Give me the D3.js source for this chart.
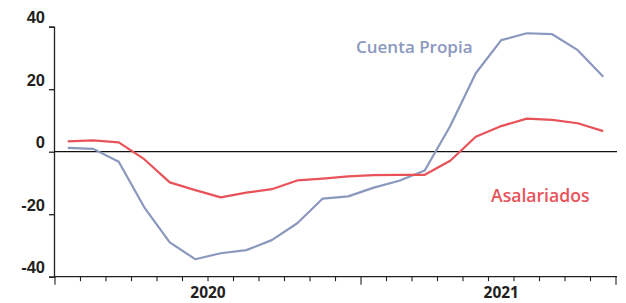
<!DOCTYPE html>
<html>
<head>
<meta charset="utf-8">
<script src="https://cdn.jsdelivr.net/npm/d3@7"></script>
<style>
	body { margin: 0; background: #fff; }
	svg { display: block; font-family: "Open Sans", sans-serif; }
</style>
</head>
<body>
<svg id="chart" width="626" height="303"></svg>
<script>
// monthly series, Jan 2020 - Oct 2021
var months = ["2020-01","2020-02","2020-03","2020-04","2020-05","2020-06","2020-07","2020-08","2020-09","2020-10","2020-11","2020-12",
	"2021-01","2021-02","2021-03","2021-04","2021-05","2021-06","2021-07","2021-08","2021-09","2021-10"];
var cuentaPropia = [1.2, 0.9, -3.2, -17.8, -29.0, -34.4, -32.5, -31.5, -28.3, -22.9, -15.0, -14.3,
	-11.5, -9.3, -6.0, 8.2, 25.1, 35.7, 37.9, 37.6, 32.5, 24.0];
var asalariados = [3.3, 3.6, 3.0, -2.4, -9.8, -12.3, -14.6, -13.1, -12.0, -9.2, -8.6, -7.9,
	-7.5, -7.4, -7.4, -2.9, 4.8, 8.2, 10.6, 10.2, 9.1, 6.6];
var yTicks = [-40, -20, 0, 20, 40];
// year label spans, in month slots
var years = [{label: "2020", from: 0, to: 12}, {label: "2021", from: 12, to: 23}];

var svg = d3.select("#chart");
var plot = {left: 55, right: 616, top: 26.7, bottom: 276.7};

var x = d3.scaleBand().domain(months).range([plot.left, plot.right]).padding(0);
var slot = d3.scaleLinear().domain([0, months.length]).range([plot.left, plot.right]);
var y = d3.scaleLinear().domain([-40, 40]).range([plot.bottom, plot.top]);

var ink = "#231f20";

// y axis
var yAxis = svg.append("g")
	.attr("transform", "translate(" + (plot.left - 1) + ",0)")
	.call(d3.axisLeft(y).tickValues(yTicks).tickSize(5).tickFormat(d3.format("d")));
yAxis.select(".domain").attr("stroke", ink).attr("stroke-width", 1.3);
yAxis.selectAll(".tick line").attr("stroke", ink).attr("stroke-width", 1.3);
yAxis.selectAll(".tick text")
	.attr("x", -9).attr("dy", "-0.25em")
	.attr("fill", ink).style("font-size", "16.5px").style("font-weight", 700)
	.text(function(d) { return d < 0 ? "-" + Math.abs(d) : d; });

// x axis
var xg = svg.append("g");
xg.append("line")
	.attr("x1", plot.left - 1).attr("x2", plot.right + 1)
	.attr("y1", plot.bottom).attr("y2", plot.bottom)
	.attr("stroke", ink).attr("stroke-width", 1.3);
xg.selectAll("line.tick")
	.data(d3.range(months.length + 1))
	.enter().append("line")
	.attr("class", "tick")
	.attr("x1", function(i) { return slot(i); })
	.attr("x2", function(i) { return slot(i); })
	.attr("y1", plot.bottom)
	.attr("y2", function(i) { return (i % 12 === 0 || i === months.length) ? plot.bottom + 8 : plot.bottom + 4.5; })
	.attr("stroke", ink).attr("stroke-width", 1.1);
xg.selectAll("text")
	.data(years)
	.enter().append("text")
	.attr("x", function(d) { return slot((d.from + d.to) / 2); })
	.attr("y", 297.5)
	.attr("text-anchor", "middle")
	.attr("fill", ink).style("font-size", "15.5px").style("font-weight", 700)
	.text(function(d) { return d.label; });

// zero line
svg.append("line")
	.attr("x1", plot.left - 1).attr("x2", plot.right + 1)
	.attr("y1", y(0)).attr("y2", y(0))
	.attr("stroke", "#111").attr("stroke-width", 1.3);

var line = d3.line()
	.x(function(d, i) { return x(months[i]) + x.bandwidth() / 2; })
	.y(function(d) { return y(d); });

var series = [
	{name: "Cuenta Propia", values: cuentaPropia, color: "#8b98be", lx: 356, ly: 53, size: 17},
	{name: "Asalariados", values: asalariados, color: "#e8535a", lx: 491, ly: 202, size: 17.6}
];

series.forEach(function(s) {
	svg.append("path")
		.datum(s.values)
		.attr("fill", "none")
		.attr("stroke", s.color)
		.attr("stroke-width", 2.2)
		.attr("stroke-linejoin", "round")
		.attr("d", line);
	svg.append("text")
		.attr("x", s.lx).attr("y", s.ly)
		.attr("fill", s.color)
		.style("font-size", s.size + "px").style("font-weight", 600)
		.text(s.name);
});
</script>
</body>
</html>
